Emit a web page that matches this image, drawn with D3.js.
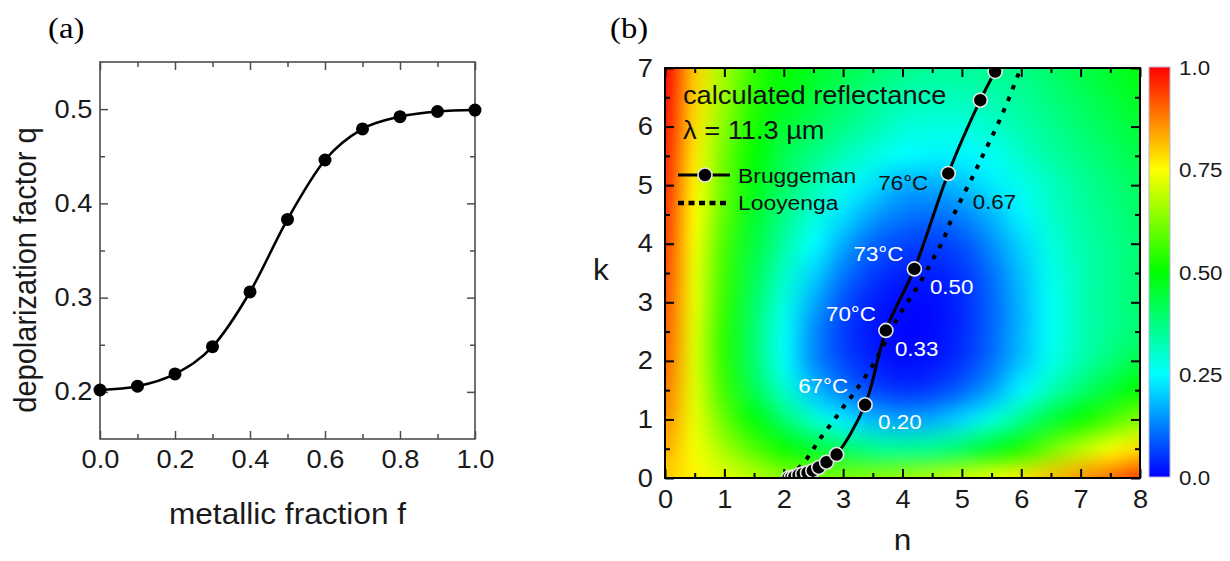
<!DOCTYPE html>
<html>
<head>
<meta charset="utf-8">
<script src="https://cdn.jsdelivr.net/npm/d3@7/dist/d3.min.js"></script>
<style>
  body { margin: 0; background: #fff; }
  svg { display: block; font-family: "Liberation Sans", Arial, sans-serif; }
</style>
</head>
<body>
<svg id="fig" width="1230" height="561"></svg>
<script>
// ---------------- panel (a): depolarization factor vs metallic fraction
const fraction = [0.0, 0.1, 0.2, 0.3, 0.4, 0.5, 0.6, 0.7, 0.8, 0.9, 1.0];
const depolarization = [0.202, 0.206, 0.219, 0.248, 0.306, 0.383, 0.446, 0.479, 0.492, 0.4975, 0.499];
const fractionTicks = [0.0, 0.2, 0.4, 0.6, 0.8, 1.0];
const fractionMinorTicks = [0.1, 0.3, 0.5, 0.7, 0.9];
const depolTicks = [0.2, 0.3, 0.4, 0.5];
const depolMinorTicks = [0.25, 0.35, 0.45];

// ---------------- panel (b): reflectance map in the n-k plane
const nGrid = [0, 0.5, 1, 1.5, 2, 2.5, 3, 3.5, 4, 4.5, 5, 5.5, 6, 6.5, 7, 7.5, 8];
const kGrid = [0, 0.5, 1, 1.5, 2, 2.5, 3, 3.5, 4, 4.5, 5, 5.5, 6, 6.5, 7];
// one row per k value (k = 0 first), one entry per n value
const reflectance = [
  [0.80,0.76,0.72,0.68,0.64,0.62,0.62,0.63,0.65,0.67,0.70,0.73,0.77,0.81,0.85,0.89,0.94],
  [0.83,0.74,0.66,0.58,0.51,0.45,0.40,0.36,0.35,0.36,0.40,0.46,0.53,0.61,0.68,0.74,0.78],
  [0.86,0.73,0.60,0.49,0.39,0.30,0.23,0.18,0.16,0.17,0.21,0.28,0.36,0.44,0.51,0.57,0.63],
  [0.88,0.72,0.56,0.42,0.30,0.19,0.12,0.07,0.05,0.06,0.10,0.16,0.24,0.32,0.39,0.45,0.50],
  [0.90,0.72,0.54,0.39,0.26,0.14,0.07,0.03,0.01,0.02,0.05,0.11,0.19,0.27,0.33,0.38,0.43],
  [0.91,0.72,0.54,0.39,0.26,0.14,0.06,0.02,0.005,0.01,0.04,0.10,0.18,0.26,0.32,0.36,0.39],
  [0.92,0.73,0.55,0.40,0.28,0.17,0.08,0.03,0.01,0.01,0.04,0.10,0.18,0.26,0.32,0.36,0.39],
  [0.93,0.73,0.56,0.42,0.31,0.21,0.12,0.06,0.03,0.03,0.05,0.11,0.19,0.27,0.32,0.36,0.39],
  [0.94,0.74,0.57,0.44,0.34,0.25,0.17,0.10,0.07,0.06,0.08,0.14,0.21,0.28,0.33,0.36,0.39],
  [0.95,0.75,0.59,0.46,0.37,0.29,0.22,0.16,0.12,0.11,0.13,0.18,0.24,0.30,0.34,0.37,0.40],
  [0.96,0.76,0.60,0.48,0.40,0.33,0.27,0.22,0.17,0.17,0.19,0.23,0.27,0.31,0.35,0.38,0.41],
  [0.97,0.77,0.61,0.50,0.42,0.37,0.32,0.28,0.25,0.24,0.24,0.26,0.30,0.34,0.37,0.40,0.43],
  [0.98,0.78,0.63,0.52,0.45,0.41,0.37,0.33,0.29,0.28,0.28,0.30,0.33,0.36,0.39,0.42,0.45],
  [0.99,0.79,0.65,0.54,0.48,0.44,0.40,0.36,0.33,0.32,0.32,0.33,0.35,0.38,0.41,0.44,0.47],
  [1.00,0.80,0.66,0.55,0.50,0.47,0.43,0.40,0.37,0.35,0.35,0.36,0.37,0.40,0.43,0.46,0.49]
];

// Bruggeman trajectory (markers) and Looyenga trajectory (dotted)
const bruggemanN = [2.08, 2.13, 2.18, 2.25, 2.32, 2.40, 2.49, 2.59, 2.72, 2.89, 3.37, 3.72, 4.20, 4.77, 5.31, 5.56];
const bruggemanK = [0.00, 0.01, 0.02, 0.05, 0.07, 0.09, 0.125, 0.18, 0.27, 0.40, 1.25, 2.52, 3.57, 5.20, 6.45, 6.94];
const looyengaN = [2.10, 2.20, 2.33, 2.47, 2.59, 2.72, 2.89, 3.01, 3.14, 3.26, 3.50, 3.70, 3.90, 4.05, 4.20, 4.36, 4.52, 4.68, 4.82, 5.00, 5.19, 5.33, 5.47, 5.64, 5.80, 5.95, 6.00];
const looyengaK = [0.00, 0.12, 0.25, 0.45, 0.64, 0.82, 1.05, 1.22, 1.39, 1.56, 1.93, 2.30, 2.70, 2.95, 3.18, 3.45, 3.75, 4.05, 4.40, 4.78, 5.16, 5.46, 5.75, 6.12, 6.50, 6.89, 7.00];

// temperatures and metallic fractions marked next to Bruggeman points
const labelledPoint = [10, 11, 12, 13];
const temperatureLabels = ["67°C", "70°C", "73°C", "76°C"];
const fractionLabels = ["0.20", "0.33", "0.50", "0.67"];

const nTicks = [0, 1, 2, 3, 4, 5, 6, 7, 8];
const nMinorTicks = [0.5, 1.5, 2.5, 3.5, 4.5, 5.5, 6.5, 7.5];
const kTicks = [0, 1, 2, 3, 4, 5, 6, 7];
const kMinorTicks = [0.5, 1.5, 2.5, 3.5, 4.5, 5.5, 6.5];
const colorbarTicks = [0, 0.25, 0.5, 0.75, 1.0];
const colorbarLabels = ["0.0", "0.25", "0.50", "0.75", "1.0"];

// rainbow colour map: blue - cyan - green - yellow - red
const mapStops = [0, 0.25, 0.5, 0.75, 1.0];
const mapColors = ["#0000ff", "#00ffff", "#00ff00", "#ffff00", "#ff0000"];

// ======================================================================
const svg = d3.select("#fig");
const FONT = "'Liberation Sans', Arial, sans-serif";
const SERIF = "'Liberation Serif', 'Times New Roman', serif";
const WIDE = 1.09;   // glyphs are set slightly wide

function styleAxis(g, size, color, lw) {
  g.attr("font-family", FONT).attr("font-size", size);
  g.select(".domain").remove();
  g.selectAll(".tick line").attr("stroke", color).attr("stroke-width", lw);
  g.selectAll(".tick text").attr("fill", "#1a1a1a").attr("transform", `scale(${WIDE},1)`);
}

// horizontal text with the wide setting
function label(parent, x, y, str, size, opts = {}) {
  return parent.append("text")
    .attr("transform", `translate(${x},${y}) scale(${WIDE},1)`)
    .attr("text-anchor", opts.anchor || "start")
    .attr("font-family", opts.family || FONT)
    .attr("font-size", size)
    .attr("fill", opts.fill || "#1a1a1a")
    .text(str);
}

// ---------------- panel (a)
const A = { left: 100, right: 475, top: 62, bottom: 439 };
const xA = d3.scaleLinear().domain([0, 1]).range([A.left, A.right]);
const yA = d3.scaleLinear().domain([0.15, 0.55]).range([A.bottom, A.top]);
const gA = svg.append("g");
const aCol = "#4d4d4d";

gA.append("g").attr("transform", `translate(0,${A.bottom})`)
  .call(d3.axisBottom(xA).tickValues(fractionTicks).tickSize(-8).tickPadding(11).tickFormat(d3.format(".1f")))
  .call(g => styleAxis(g, 25, aCol, 1.5));
gA.append("g").attr("transform", `translate(0,${A.bottom})`)
  .call(d3.axisBottom(xA).tickValues(fractionMinorTicks).tickSize(-5).tickFormat(""))
  .call(g => styleAxis(g, 25, aCol, 1.5));
gA.append("g").attr("transform", `translate(0,${A.top})`)
  .call(d3.axisTop(xA).tickValues(fractionTicks).tickSize(-8).tickFormat(""))
  .call(g => styleAxis(g, 25, aCol, 1.5));
gA.append("g").attr("transform", `translate(0,${A.top})`)
  .call(d3.axisTop(xA).tickValues(fractionMinorTicks).tickSize(-5).tickFormat(""))
  .call(g => styleAxis(g, 25, aCol, 1.5));
gA.append("g").attr("transform", `translate(${A.left},0)`)
  .call(d3.axisLeft(yA).tickValues(depolTicks).tickSize(-8).tickPadding(7).tickFormat(d3.format(".1f")))
  .call(g => styleAxis(g, 25, aCol, 1.5));
gA.append("g").attr("transform", `translate(${A.left},0)`)
  .call(d3.axisLeft(yA).tickValues(depolMinorTicks).tickSize(-5).tickFormat(""))
  .call(g => styleAxis(g, 25, aCol, 1.5));
gA.append("g").attr("transform", `translate(${A.right},0)`)
  .call(d3.axisRight(yA).tickValues(depolTicks).tickSize(-8).tickFormat(""))
  .call(g => styleAxis(g, 25, aCol, 1.5));
gA.append("g").attr("transform", `translate(${A.right},0)`)
  .call(d3.axisRight(yA).tickValues(depolMinorTicks).tickSize(-5).tickFormat(""))
  .call(g => styleAxis(g, 25, aCol, 1.5));

gA.append("rect")
  .attr("x", A.left).attr("y", A.top)
  .attr("width", A.right - A.left).attr("height", A.bottom - A.top)
  .attr("fill", "none").attr("stroke", aCol).attr("stroke-width", 1.6);

const depolData = fraction.map((f, i) => [f, depolarization[i]]);
gA.append("path")
  .datum(depolData)
  .attr("fill", "none").attr("stroke", "#000").attr("stroke-width", 2.6)
  .attr("d", d3.line().x(d => xA(d[0])).y(d => yA(d[1])).curve(d3.curveMonotoneX));
gA.selectAll("circle.pt").data(depolData).join("circle")
  .attr("class", "pt")
  .attr("cx", d => xA(d[0])).attr("cy", d => yA(d[1])).attr("r", 6.5)
  .attr("fill", "#000");

label(gA, (A.left + A.right) / 2, 524, "metallic fraction f", 29, { anchor: "middle" });
gA.append("text")
  .attr("transform", `translate(25,270) rotate(-90) scale(1,${WIDE})`)
  .attr("text-anchor", "middle").attr("dy", "0.35em").attr("font-size", 29).attr("fill", "#1a1a1a")
  .text("depolarization factor q");
label(svg, 48, 38, "(a)", 30, { family: SERIF, fill: "#000" });

// ---------------- panel (b)
const B = { left: 665, right: 1140, top: 68, bottom: 478 };
const xB = d3.scaleLinear().domain([0, 8]).range([B.left, B.right]);
const yB = d3.scaleLinear().domain([0, 7]).range([B.bottom, B.top]);
const color = d3.scaleLinear().domain(mapStops).range(mapColors).clamp(true);
const gB = svg.append("g");

svg.append("defs").append("clipPath").attr("id", "plotB")
  .append("rect")
  .attr("x", B.left).attr("y", B.top)
  .attr("width", B.right - B.left).attr("height", B.bottom - B.top);

// reflectance map: one pixel per grid value, scaled smoothly to the plot
const nx = nGrid.length, ny = kGrid.length;
const small = document.createElement("canvas");
small.width = nx; small.height = ny;
const sctx = small.getContext("2d");
const img = sctx.createImageData(nx, ny);
reflectance.forEach((row, j) => {
  row.forEach((v, i) => {
    const c = d3.rgb(color(v));
    const p = ((ny - 1 - j) * nx + i) * 4;
    img.data[p] = c.r; img.data[p + 1] = c.g; img.data[p + 2] = c.b; img.data[p + 3] = 255;
  });
});
sctx.putImageData(img, 0, 0);

const hn = (nGrid[1] - nGrid[0]) / 2, hk = (kGrid[1] - kGrid[0]) / 2;
const pw = B.right - B.left, ph = B.bottom - B.top;
const big = document.createElement("canvas");
big.width = pw; big.height = ph;
const bctx = big.getContext("2d");
bctx.imageSmoothingEnabled = true;
bctx.imageSmoothingQuality = "high";
const dx0 = xB(nGrid[0] - hn) - B.left;
const dx1 = xB(nGrid[nx - 1] + hn) - B.left;
const dy0 = yB(kGrid[ny - 1] + hk) - B.top;
const dy1 = yB(kGrid[0] - hk) - B.top;
bctx.drawImage(small, 0, 0, nx, ny, dx0, dy0, dx1 - dx0, dy1 - dy0);
gB.append("image")
  .attr("x", B.left).attr("y", B.top).attr("width", pw).attr("height", ph)
  .attr("preserveAspectRatio", "none")
  .attr("href", big.toDataURL());

// axes
gB.append("g").attr("transform", `translate(0,${B.bottom})`)
  .call(d3.axisBottom(xB).tickValues(nTicks).tickSize(-9).tickPadding(12).tickFormat(d3.format("d")))
  .call(g => styleAxis(g, 25, "#000", 2));
gB.append("g").attr("transform", `translate(0,${B.bottom})`)
  .call(d3.axisBottom(xB).tickValues(nMinorTicks).tickSize(-5).tickFormat(""))
  .call(g => styleAxis(g, 25, "#000", 2));
gB.append("g").attr("transform", `translate(0,${B.top})`)
  .call(d3.axisTop(xB).tickValues(nTicks).tickSize(-9).tickFormat(""))
  .call(g => styleAxis(g, 25, "#000", 2));
gB.append("g").attr("transform", `translate(0,${B.top})`)
  .call(d3.axisTop(xB).tickValues(nMinorTicks).tickSize(-5).tickFormat(""))
  .call(g => styleAxis(g, 25, "#000", 2));
gB.append("g").attr("transform", `translate(${B.left},0)`)
  .call(d3.axisLeft(yB).tickValues(kTicks).tickSize(-9).tickPadding(11).tickFormat(d3.format("d")))
  .call(g => styleAxis(g, 25, "#000", 2));
gB.append("g").attr("transform", `translate(${B.left},0)`)
  .call(d3.axisLeft(yB).tickValues(kMinorTicks).tickSize(-5).tickFormat(""))
  .call(g => styleAxis(g, 25, "#000", 2));
gB.append("g").attr("transform", `translate(${B.right},0)`)
  .call(d3.axisRight(yB).tickValues(kTicks).tickSize(-9).tickFormat(""))
  .call(g => styleAxis(g, 25, "#000", 2));
gB.append("g").attr("transform", `translate(${B.right},0)`)
  .call(d3.axisRight(yB).tickValues(kMinorTicks).tickSize(-5).tickFormat(""))
  .call(g => styleAxis(g, 25, "#000", 2));

// trajectories
const looyData = looyengaN.map((n, i) => [n, looyengaK[i]]);
const brugData = bruggemanN.map((n, i) => [n, bruggemanK[i]]);
const traj = gB.append("g").attr("clip-path", "url(#plotB)");
traj.append("path").datum(looyData)
  .attr("fill", "none").attr("stroke", "#000").attr("stroke-width", 4)
  .attr("stroke-dasharray", "4.5 8")
  .attr("d", d3.line().x(d => xB(d[0])).y(d => yB(d[1])).curve(d3.curveCatmullRom.alpha(0.5)));
traj.append("path").datum(brugData)
  .attr("fill", "none").attr("stroke", "#000").attr("stroke-width", 3)
  .attr("d", d3.line().x(d => xB(d[0])).y(d => yB(d[1])).curve(d3.curveCatmullRom.alpha(0.5)));
traj.selectAll("circle").data(brugData).join("circle")
  .attr("cx", d => xB(d[0])).attr("cy", d => yB(d[1])).attr("r", 7)
  .attr("fill", "#000").attr("stroke", "#e6e6e6").attr("stroke-width", 1.6);

gB.append("rect")
  .attr("x", B.left).attr("y", B.top).attr("width", pw).attr("height", ph)
  .attr("fill", "none").attr("stroke", "#000").attr("stroke-width", 2);

// labels next to the marked points: [dx, dy] from the point, and text colour
const tempPlace = [[-17, -12, "#fff"], [-10, -9, "#fff"], [-11, -8, "#fff"], [-20, 16.5, "#111"]];
const fracPlace = [[13, 24, "#fff"], [9, 26, "#fff"], [15.5, 25, "#fff"], [24.5, 35.5, "#111"]];
labelledPoint.forEach((idx, i) => {
  const px = xB(bruggemanN[idx]), py = yB(bruggemanK[idx]);
  label(gB, px + tempPlace[i][0], py + tempPlace[i][1], temperatureLabels[i], 20.5,
        { anchor: "end", fill: tempPlace[i][2] });
  label(gB, px + fracPlace[i][0], py + fracPlace[i][1], fractionLabels[i], 20.5,
        { anchor: "start", fill: fracPlace[i][2] });
});

// caption and legend inside the map
label(gB, 683, 104, "calculated reflectance", 25, { fill: "#111" });
label(gB, 683, 139, "λ = 11.3 µm", 25, { fill: "#111" });
gB.append("line").attr("x1", 678).attr("x2", 730).attr("y1", 175).attr("y2", 175)
  .attr("stroke", "#000").attr("stroke-width", 3);
gB.append("circle").attr("cx", 705).attr("cy", 175).attr("r", 7)
  .attr("fill", "#000").attr("stroke", "#e6e6e6").attr("stroke-width", 1.6);
label(gB, 738, 183, "Bruggeman", 21, { fill: "#111" });
gB.append("line").attr("x1", 678).attr("x2", 728).attr("y1", 203).attr("y2", 203)
  .attr("stroke", "#000").attr("stroke-width", 4.5).attr("stroke-dasharray", "6 4.5");
label(gB, 738, 210, "Looyenga", 21, { fill: "#111" });

// axis titles
label(gB, (B.left + B.right) / 2, 550, "n", 29, { anchor: "middle" });
label(gB, 601, 280, "k", 29, { anchor: "middle" });
label(svg, 610, 38, "(b)", 30, { family: SERIF, fill: "#000" });

// colour bar
const cb = { x: 1149, w: 21 };
const yC = d3.scaleLinear().domain([0, 1]).range([477, 67]);
const grad = svg.select("defs").append("linearGradient")
  .attr("id", "cbarGrad").attr("x1", 0).attr("y1", 1).attr("x2", 0).attr("y2", 0);
grad.selectAll("stop").data(mapStops).join("stop")
  .attr("offset", d => d).attr("stop-color", (d, i) => mapColors[i]);
svg.append("rect")
  .attr("x", cb.x).attr("y", yC(1)).attr("width", cb.w).attr("height", yC(0) - yC(1))
  .attr("fill", "url(#cbarGrad)").attr("stroke", "#b9b3d6").attr("stroke-width", 1);
colorbarTicks.forEach((d, i) => {
  label(svg, 1179, yC(d) + 7.5, colorbarLabels[i], 20.5);
});
</script>
</body>
</html>
